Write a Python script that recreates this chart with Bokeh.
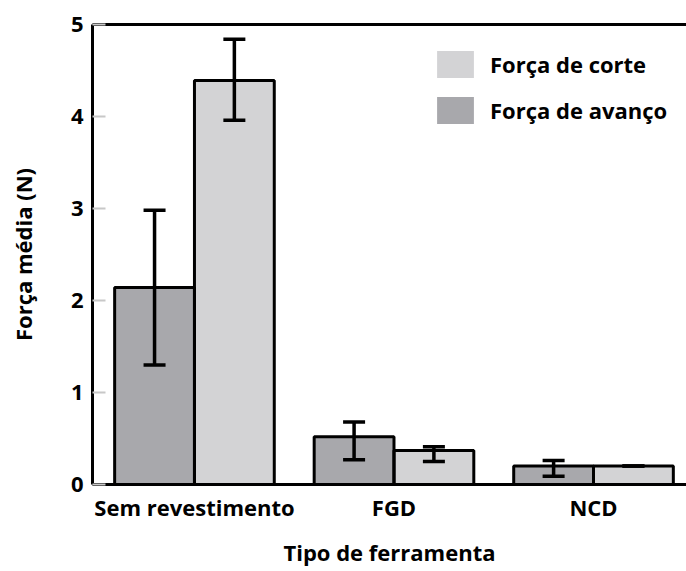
from bokeh.plotting import figure
from bokeh.models import (ColumnDataSource, Whisker, TeeHead, FixedTicker, LinearAxis,
                          Range1d, Legend, LegendItem)
from bokeh.embed import file_html
from bokeh.resources import INLINE

categories = ["Sem revestimento", "FGD", "NCD"]
avanco = [2.14, 0.52, 0.20]
avanco_low = [1.30, 0.27, 0.09]
avanco_high = [2.98, 0.68, 0.26]
corte = [4.39, 0.37, 0.20]
corte_low = [3.96, 0.25, 0.20]
corte_high = [4.84, 0.41, 0.20]
y_ticks = [0, 1, 2, 3, 4, 5]

FONT = "Open Sans"
DARK = "#a8a8ac"
LIGHT = "#d3d3d5"

xs = list(range(len(categories)))
off = 0.2
bw = 0.4

src_a = ColumnDataSource(dict(x=[i - off for i in xs], top=avanco, lo=avanco_low, hi=avanco_high))
src_c = ColumnDataSource(dict(x=[i + off for i in xs], top=corte, lo=corte_low, hi=corte_high))

p = figure(width=686, height=571, output_backend="svg", toolbar_location=None,
           x_range=Range1d(-0.511, 2.466), y_range=Range1d(0, 5),
           min_border_left=92, min_border_top=24, min_border_bottom=87, min_border_right=0)
p.outline_line_color = None
p.grid.visible = False
p.background_fill_color = "white"

# fills (used by the legend) and outlines
fill_a = p.vbar(x="x", top="top", width=bw, bottom=0, source=src_a, fill_color=DARK, line_color=None)
fill_c = p.vbar(x="x", top="top", width=bw, bottom=0, source=src_c, fill_color=LIGHT, line_color=None)
for src in (src_a, src_c):
    p.vbar(x="x", top="top", width=bw, bottom=0, source=src, fill_color=None,
           line_color="black", line_width=3)

for src in (src_a, src_c):
    w = Whisker(base="x", lower="lo", upper="hi", source=src, line_color="black", line_width=3.5,
                upper_head=TeeHead(size=22, line_width=3.5, line_color="black"),
                lower_head=TeeHead(size=22, line_width=3.5, line_color="black"),
                level="annotation")
    p.add_layout(w)

# axes
xa = p.xaxis[0]
xa.ticker = FixedTicker(ticks=xs)
xa.major_label_overrides = {i: c for i, c in enumerate(categories)}
xa.axis_line_width = 3
xa.axis_line_color = "black"
xa.major_tick_line_color = None
xa.minor_tick_line_color = None
xa.major_tick_in = 0
xa.major_tick_out = 0
xa.major_label_text_font = FONT
xa.major_label_text_font_style = "bold"
xa.major_label_text_font_size = "22px"
xa.major_label_text_color = "black"
xa.major_label_standoff = 7
xa.axis_label = "Tipo de ferramenta"
xa.axis_label_text_font = FONT
xa.axis_label_text_font_style = "bold"
xa.axis_label_text_font_size = "22px"
xa.axis_label_text_color = "black"
xa.axis_label_standoff = 12

ya = p.yaxis[0]
ya.ticker = FixedTicker(ticks=y_ticks)
ya.axis_line_width = 3
ya.axis_line_color = "black"
ya.major_tick_in = 13
ya.major_tick_out = 0
ya.major_tick_line_color = "#c8c8c8"
ya.major_tick_line_width = 2
ya.minor_tick_line_color = None
ya.major_label_text_font = FONT
ya.major_label_text_font_style = "bold"
ya.major_label_text_font_size = "22px"
ya.major_label_text_color = "black"
ya.major_label_standoff = 9
ya.axis_label = "Força média (N)"
ya.axis_label_text_font = FONT
ya.axis_label_text_font_style = "bold"
ya.axis_label_text_font_size = "22px"
ya.axis_label_text_color = "black"
ya.axis_label_standoff = 30

top_axis = LinearAxis(axis_line_width=3, axis_line_color="black",
                      major_tick_line_color=None, minor_tick_line_color=None,
                      major_tick_in=0, major_tick_out=0,
                      major_label_text_font_size="0px", major_label_text_color=None)
p.add_layout(top_axis, "above")

legend = Legend(items=[LegendItem(label="Força de corte", renderers=[fill_c]),
                       LegendItem(label="Força de avanço", renderers=[fill_a])],
                location=(340, 357), padding=0, margin=0, spacing=12,
                glyph_width=46, glyph_height=34, label_standoff=12,
                border_line_color=None, background_fill_alpha=0,
                label_text_font=FONT, label_text_font_style="bold",
                label_text_font_size="22px", label_text_color="black")
p.add_layout(legend, "center")

open("out.html", "w").write(file_html(p, INLINE))
